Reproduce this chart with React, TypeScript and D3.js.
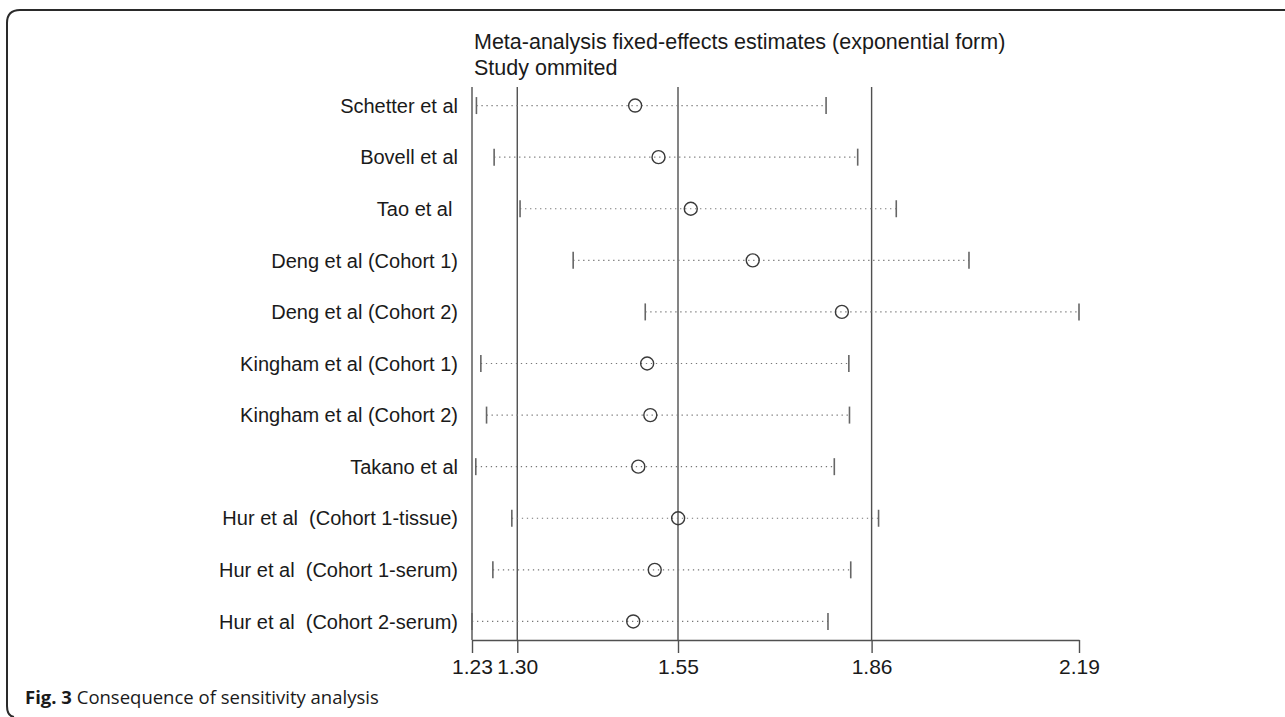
import * as d3 from "d3";
import { useEffect, useRef } from "react";

// study omitted in each row
const studies = [
    "Schetter et al",
    "Bovell et al",
    "Tao et al ",
    "Deng et al (Cohort 1)",
    "Deng et al (Cohort 2)",
    "Kingham et al (Cohort 1)",
    "Kingham et al (Cohort 2)",
    "Takano et al",
    "Hur et al  (Cohort 1-tissue)",
    "Hur et al  (Cohort 1-serum)",
    "Hur et al  (Cohort 2-serum)",
];

// pooled estimate (exp form) after dropping each study
const estimates = [1.488, 1.525, 1.576, 1.674, 1.815, 1.507, 1.512, 1.493, 1.556, 1.519, 1.485];
const lowerCI = [1.237, 1.265, 1.306, 1.390, 1.504, 1.244, 1.253, 1.236, 1.293, 1.263, 1.230];
const upperCI = [1.790, 1.840, 1.901, 2.016, 2.190, 1.826, 1.827, 1.803, 1.873, 1.829, 1.793];

// overall lower CI, estimate, upper CI (vertical lines)
const refLines = [1.3016, 1.5558, 1.862];

const tickValues = [1.23, 1.3016, 1.5558, 1.862, 2.19];
const tickLabels = ["1.23", "1.30", "1.55", "1.86", "2.19"];

export default function App() {
    const svgRef = useRef<SVGSVGElement | null>(null);

    useEffect(() => {
        if (!svgRef.current) return;
        const svg = d3.select(svgRef.current);
        svg.selectAll("*").remove();

        const width = 1285;
        const height = 717;
        const plotTop = 87;
        const plotBottom = 640;

        svg.attr("width", width).attr("height", height);

        // figure frame (top + left, rounded corner)
        svg.append("path")
            .attr("d", "M1290,10 L20,10 Q7,10 7,23 L7,706 Q7,716 14,717")
            .attr("fill", "none")
            .attr("stroke", "#2a2a2a")
            .attr("stroke-width", 2);

        const x = d3.scaleLinear().domain([1.23, 2.19]).range([472, 1079]);
        const y = d3.scalePoint<string>().domain(studies).range([plotTop, plotBottom]).padding(0.36);

        const font = "'Liberation Sans', Arial, sans-serif";

        // title
        const title = svg.append("text")
            .attr("font-family", font)
            .attr("font-size", 21.5)
            .attr("fill", "#1a1a1a");
        title.append("tspan").attr("x", 474).attr("y", 49).text("Meta-analysis fixed-effects estimates (exponential form)");
        title.append("tspan").attr("x", 474).attr("y", 75).text("Study ommited");

        // reference lines
        svg.selectAll("line.ref")
            .data(refLines)
            .enter()
            .append("line")
            .attr("class", "ref")
            .attr("x1", (d) => x(d))
            .attr("x2", (d) => x(d))
            .attr("y1", plotTop)
            .attr("y2", plotBottom)
            .attr("stroke", "#505050")
            .attr("stroke-width", 1.4);

        // y axis line at the left edge
        svg.append("line")
            .attr("x1", x(1.23))
            .attr("x2", x(1.23))
            .attr("y1", plotTop)
            .attr("y2", plotBottom)
            .attr("stroke", "#505050")
            .attr("stroke-width", 1.4);

        // x axis
        const xAxis = svg.append("g")
            .attr("transform", `translate(0,${plotBottom})`)
            .call(d3.axisBottom(x)
                .tickValues(tickValues)
                .tickSize(13)
                .tickPadding(6)
                .tickSizeOuter(0)
                .tickFormat((_, i) => tickLabels[i]));
        xAxis.select(".domain").attr("stroke", "#505050").attr("stroke-width", 1.4);
        xAxis.selectAll(".tick line").attr("stroke", "#505050").attr("stroke-width", 1.4);
        xAxis.selectAll(".tick text")
            .attr("font-family", font)
            .attr("font-size", 21)
            .attr("fill", "#1a1a1a");

        const rows = studies.map((s, i) => ({
            study: s,
            est: estimates[i],
            lo: lowerCI[i],
            hi: upperCI[i],
        }));

        // study labels
        svg.selectAll("text.label")
            .data(rows)
            .enter()
            .append("text")
            .attr("class", "label")
            .attr("x", 458)
            .attr("y", (d) => y(d.study)!)
            .attr("dy", "0.36em")
            .attr("text-anchor", "end")
            .attr("font-family", font)
            .attr("font-size", 20)
            .attr("fill", "#1a1a1a")
            .style("white-space", "pre")
            .text((d) => d.study);

        // dotted CI lines
        svg.selectAll("line.ci")
            .data(rows)
            .enter()
            .append("line")
            .attr("class", "ci")
            .attr("x1", (d) => x(d.lo))
            .attr("x2", (d) => x(d.hi))
            .attr("y1", (d) => y(d.study)!)
            .attr("y2", (d) => y(d.study)!)
            .attr("stroke", "#777")
            .attr("stroke-width", 1.2)
            .attr("stroke-dasharray", "1.3,3.7");

        // CI end caps
        const caps = rows.flatMap((d) => [{ v: d.lo, s: d.study }, { v: d.hi, s: d.study }]);
        svg.selectAll("line.cap")
            .data(caps)
            .enter()
            .append("line")
            .attr("class", "cap")
            .attr("x1", (d) => x(d.v))
            .attr("x2", (d) => x(d.v))
            .attr("y1", (d) => y(d.s)! - 8.5)
            .attr("y2", (d) => y(d.s)! + 8.5)
            .attr("stroke", "#666")
            .attr("stroke-width", 1.6);

        // point estimates
        svg.selectAll("circle.est")
            .data(rows)
            .enter()
            .append("circle")
            .attr("class", "est")
            .attr("cx", (d) => x(d.est))
            .attr("cy", (d) => y(d.study)!)
            .attr("r", 6.5)
            .attr("fill", "none")
            .attr("stroke", "#3a3a3a")
            .attr("stroke-width", 1.4);

        // caption
        const cap = svg.append("text")
            .attr("x", 25)
            .attr("y", 704)
            .attr("font-family", "'Open Sans', 'Noto Sans', sans-serif")
            .attr("font-size", 18.5)
            .attr("fill", "#1a1a1a");
        cap.append("tspan").attr("font-weight", "bold").text("Fig. 3");
        cap.append("tspan").text(" Consequence of sensitivity analysis");
    }, []);

    return (
        <svg ref={svgRef} style={{ position: "absolute", left: 0, top: 0, display: "block" }} />
    );
}
